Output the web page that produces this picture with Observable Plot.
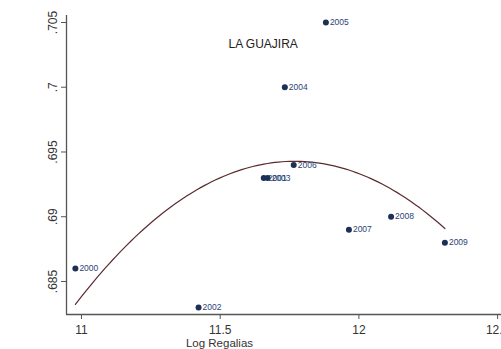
<!DOCTYPE html>
<html>
<head>
<meta charset="utf-8">
<script src="https://cdn.jsdelivr.net/npm/d3@7"></script>
<script src="https://cdn.jsdelivr.net/npm/@observablehq/plot@0.6"></script>
<style>
  html, body { margin: 0; padding: 0; background: #fff; }
  #chart svg { display: block; }
</style>
</head>
<body>
<div id="chart"></div>
<script>
// La Guajira: yearly index against log royalties (Log Regalias)
const years = [2000, 2001, 2002, 2003, 2004, 2005, 2006, 2007, 2008, 2009];
const logRegalias = [10.978, 11.657, 11.422, 11.671, 11.733, 11.881, 11.765, 11.964, 12.116, 12.310];
const indice = [0.686, 0.693, 0.683, 0.693, 0.700, 0.705, 0.694, 0.689, 0.690, 0.688];

const xTicks = [11, 11.5, 12, 12.5];
const yTicks = [0.685, 0.69, 0.695, 0.7, 0.705];
const xDomain = [10.946, 12.514];
const yDomain = [0.68245, 0.70554];

const points = years.map((year, i) => ({year, x: logRegalias[i], y: indice[i]}));

// Quadratic least-squares fit y = a + b x + c x^2 over the observed points
function quadFit(xs, ys) {
  const x0 = d3.mean(xs);
  const u = xs.map(v => v - x0);
  const S = k => d3.sum(u, v => v ** k);
  const T = k => d3.sum(u, (v, i) => ys[i] * v ** k);
  const A = [[S(0), S(1), S(2)], [S(1), S(2), S(3)], [S(2), S(3), S(4)]];
  const B = [T(0), T(1), T(2)];
  // Gaussian elimination
  const n = 3;
  const M = A.map((row, i) => [...row, B[i]]);
  for (let c = 0; c < n; c++) {
    let p = c;
    for (let r = c + 1; r < n; r++) if (Math.abs(M[r][c]) > Math.abs(M[p][c])) p = r;
    [M[c], M[p]] = [M[p], M[c]];
    for (let r = c + 1; r < n; r++) {
      const f = M[r][c] / M[c][c];
      for (let k = c; k <= n; k++) M[r][k] -= f * M[c][k];
    }
  }
  const coef = new Array(n);
  for (let r = n - 1; r >= 0; r--) {
    let s = M[r][n];
    for (let k = r + 1; k < n; k++) s -= M[r][k] * coef[k];
    coef[r] = s / M[r][r];
  }
  return x => { const v = x - x0; return coef[0] + coef[1] * v + coef[2] * v * v; };
}

const fit = quadFit(logRegalias, indice);
const [xmin, xmax] = d3.extent(logRegalias);
const curve = d3.range(0, 101).map(i => {
  const x = xmin + (xmax - xmin) * i / 100;
  return {x, y: fit(x)};
});

const fmtY = d => String(+d.toFixed(3)).replace(/^0\./, ".");

const chart = Plot.plot({
  width: 501,
  height: 349,
  marginLeft: 66,
  marginRight: 0,
  marginTop: 15,
  marginBottom: 35,
  style: {fontFamily: "'Liberation Sans', Arial, sans-serif", fontSize: "12px", color: "#333", background: "#fff"},
  x: {domain: xDomain, label: null},
  y: {domain: yDomain, label: null},
  marks: [
    Plot.ruleX([xDomain[0]], {stroke: "#555", strokeWidth: 1.3}),
    Plot.ruleY([yDomain[0]], {stroke: "#555", strokeWidth: 1.3}),
    Plot.axisX({ticks: xTicks, tickFormat: d => String(d), tickSize: 5, tickPadding: 6, fontSize: 12, stroke: "#555"}),
    Plot.axisY({ticks: yTicks, tickFormat: fmtY, tickSize: 5, tickRotate: -90, tickPadding: 5, fontSize: 12, stroke: "#555"}),
    Plot.line(curve, {x: "x", y: "y", stroke: "#5a2b2e", strokeWidth: 1.2}),
    Plot.dot(points, {x: "x", y: "y", r: 3, fill: "#1c2f57", stroke: "none"}),
    Plot.text(points, {x: "x", y: "y", text: d => String(d.year), dx: 4, textAnchor: "start", fill: "#2c4377", fontSize: 8.5}),
    Plot.text(["LA GUAJIRA"], {frameAnchor: "top-left", dx: 228 - 66, dy: 24, textAnchor: "start", fontSize: 12, fill: "#222"}),
    Plot.text(["Log Regalias"], {frameAnchor: "bottom-left", dx: 219 - 66, dy: 32, textAnchor: "middle", fontSize: 11.5, fill: "#333"})
  ]
});

document.getElementById("chart").append(chart);
</script>
</body>
</html>
